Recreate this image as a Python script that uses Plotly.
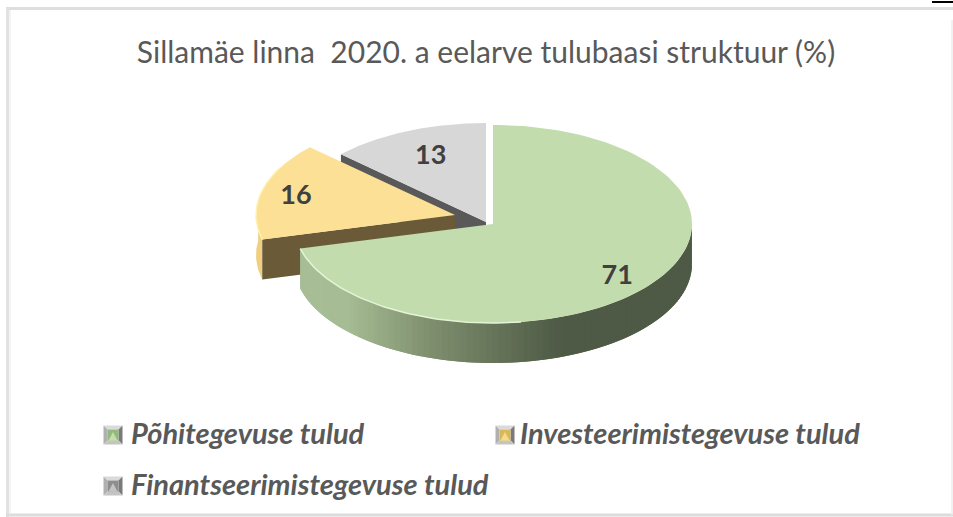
import numpy as np
import plotly.graph_objects as go

# ---- data
categories = ["Põhitegevuse tulud", "Investeerimistegevuse tulud", "Finantseerimistegevuse tulud"]
values = [71, 16, 13]
title_text = "Sillamäe linna \u00a02020. a eelarve tulubaasi struktuur (%)"

# ---- styles / geometry
top_colors = ["#c3dcae", "#fbe095", "#d7d7d7"]
key_edge = ["#93b880", "#d8b85c", "#8e8e8e"]
key_mid = ["#c3e0a8", "#f6dc8a", "#c4c4c4"]
label_color = "#404040"
text_color = "#595959"
FONT = "Lato, Carlito, sans-serif"
centres = [(493, 224), (455, 215), (486, 222)]
RX, RY, DEPTH = 199, 99, 40
label_r = [0.79, 0.825, 0.70]
label_dy = [5, 3, -1]
legend_pos = [(113, 435), (505, 435), (113, 486)]
legend_text_x = [131, 520, 131]

fracs = np.array(values) / sum(values)
ends = np.cumsum(fracs) * 2 * np.pi
starts = ends - fracs * 2 * np.pi


def pt(c, t, dy=0.0):
    t = np.asarray(t)
    return c[0] + RX * np.sin(t), c[1] - RY * np.cos(t) + dy


def poly(x, y, color):
    return go.Scatter(x=list(x), y=list(y), mode="lines", fill="toself", fillcolor=color,
                      line=dict(color=color, width=0), hoverinfo="skip", showlegend=False)


def line(x, y, color, width=1):
    return go.Scatter(x=list(x), y=list(y), mode="lines", line=dict(color=color, width=width),
                      hoverinfo="skip", showlegend=False)


def wedge(c, a, b):
    t = np.linspace(a, b, 120)
    x, y = pt(c, t)
    return np.r_[c[0], x, c[0]], np.r_[c[1], y, c[1]]


def cut_face(c, t):
    x, y = pt(c, t)
    return [c[0], x, x, c[0], c[0]], [c[1], y, y + DEPTH, c[1] + DEPTH, c[1]]


def mix(x, stops):
    xs = [s[0] for s in stops]
    rgb = [np.interp(x, xs, [s[1][i] for s in stops]) for i in range(3)]
    return "rgb(%d,%d,%d)" % tuple(rgb)


fig = go.Figure()

# grey slice
x, y = cut_face(centres[2], starts[2])
fig.add_trace(poly(x, y, "#595959"))
x, y = wedge(centres[2], starts[2], ends[2])
fig.add_trace(poly(x, y, top_colors[2]))

# yellow slice: cut face, outer wall, top
t = np.linspace(starts[1], 1.5 * np.pi + 0.15, 30)
ox, oy = pt(centres[1], t)
fig.add_trace(poly(np.r_[ox, ox[::-1]], np.r_[oy, oy[::-1] + DEPTH], "#f0cf80"))
x, y = cut_face(centres[1], starts[1])
fig.add_trace(poly(x, y, "#6b5a37"))
x, y = wedge(centres[1], starts[1], ends[1])
fig.add_trace(poly(x, y, top_colors[1]))
t = np.linspace(starts[1], 1.5 * np.pi + 0.5, 40)
ox, oy = pt(centres[1], t)
fig.add_trace(line(ox, oy, "#fff2b0", 1.5))

# green slice: wall built of overlapping strips shaded along x
wall_stops = [(300, (168, 190, 150)), (350, (166, 188, 148)), (440, (124, 140, 108)),
              (565, (78, 90, 69)), (692, (78, 90, 69))]
edges = np.linspace(np.pi / 2, ends[0], 91)
for i in range(len(edges) - 1):
    t = np.linspace(edges[i], edges[min(i + 2, len(edges) - 1)], 5)
    sx, sy = pt(centres[0], t)
    col = mix(pt(centres[0], edges[i])[0], wall_stops)
    fig.add_trace(poly(np.r_[sx, sx[::-1]], np.r_[sy, sy[::-1] + DEPTH], col))
x, y = wedge(centres[0], starts[0], ends[0])
fig.add_trace(poly(x, y, top_colors[0]))
t = np.linspace(3.0, ends[0], 60)
ox, oy = pt(centres[0], t)
fig.add_trace(line(ox, oy, "#e4f4d6", 1.5))

# value labels
lx, ly = [], []
for c, a, b, r, d in zip(centres, starts, ends, label_r, label_dy):
    m = (a + b) / 2
    lx.append(c[0] + RX * r * np.sin(m))
    ly.append(c[1] - RY * r * np.cos(m) + d)
fig.add_trace(go.Scatter(x=lx, y=ly, mode="text", text=[str(v) for v in values],
                         textfont=dict(family=FONT, size=27, color=label_color, weight="bold"),
                         textposition="middle center", hoverinfo="skip", showlegend=False))

# legend labels
fig.add_trace(go.Scatter(x=legend_text_x, y=[p[1] + 2 for p in legend_pos],
                         mode="text", text=categories, textposition="middle right",
                         textfont=dict(family=FONT, size=29, color=text_color, weight="bold", style="italic"),
                         hoverinfo="skip", showlegend=False))

# bevelled legend keys and frame
shapes = []
for (kx, ky), edge, mid in zip(legend_pos, key_edge, key_mid):
    h, n = 9.5, 5.5
    trapezoids = [
        (f"M{kx-h},{ky-h} L{kx+h},{ky-h} L{kx+n},{ky-n} L{kx-n},{ky-n} Z", "#dadada"),
        (f"M{kx-h},{ky-h} L{kx-n},{ky-n} L{kx-n},{ky+n} L{kx-h},{ky+h} Z", "#b0b0b0"),
        (f"M{kx+h},{ky-h} L{kx+n},{ky-n} L{kx+n},{ky+n} L{kx+h},{ky+h} Z", "#7a7a7a"),
        (f"M{kx-h},{ky+h} L{kx-n},{ky+n} L{kx+n},{ky+n} L{kx+h},{ky+h} Z", "#c4c4c4"),
    ]
    for path, c in trapezoids:
        shapes.append(dict(type="path", path=path, fillcolor=c, line=dict(width=0), layer="above"))
    shapes.append(dict(type="rect", x0=kx - n, x1=kx + n, y0=ky - n, y1=ky + n,
                       fillcolor=edge, line=dict(width=0), layer="above"))
    shapes.append(dict(type="path", path=f"M{kx-n+1},{ky+n} L{kx},{ky-3} L{kx+n-1},{ky+n} Z",
                       fillcolor=mid, line=dict(width=0), layer="above"))

frame = [(6, 8.5, 953, 8.5, "#dedede", 3), (7.5, 8, 7.5, 517, "#e2e2e2", 3),
         (10, 10, 10, 513, "#f3f3f3", 2), (6, 515, 953, 515, "#dcdcdc", 3),
         (952, 20, 952, 515, "#ececec", 1.5), (932, 2, 953, 2, "#000000", 2)]
for x0, y0, x1, y1, c, w in frame:
    shapes.append(dict(type="line", x0=x0, y0=y0, x1=x1, y1=y1, line=dict(color=c, width=w), layer="above"))

fig.update_layout(
    width=953, height=517, margin=dict(l=0, r=0, t=0, b=0),
    paper_bgcolor="white", plot_bgcolor="white", showlegend=False, shapes=shapes,
    xaxis=dict(range=[0, 953], visible=False, fixedrange=True),
    yaxis=dict(range=[517, 0], visible=False, fixedrange=True),
    title=dict(text=title_text, x=486 / 953, y=1 - 52 / 517, xanchor="center", yanchor="middle",
               font=dict(family=FONT, size=30, color=text_color)),
)
fig.write_html("out.html", config=dict(displayModeBar=False),
               post_script="document.body.style.margin='0';document.body.style.overflow='hidden';")
